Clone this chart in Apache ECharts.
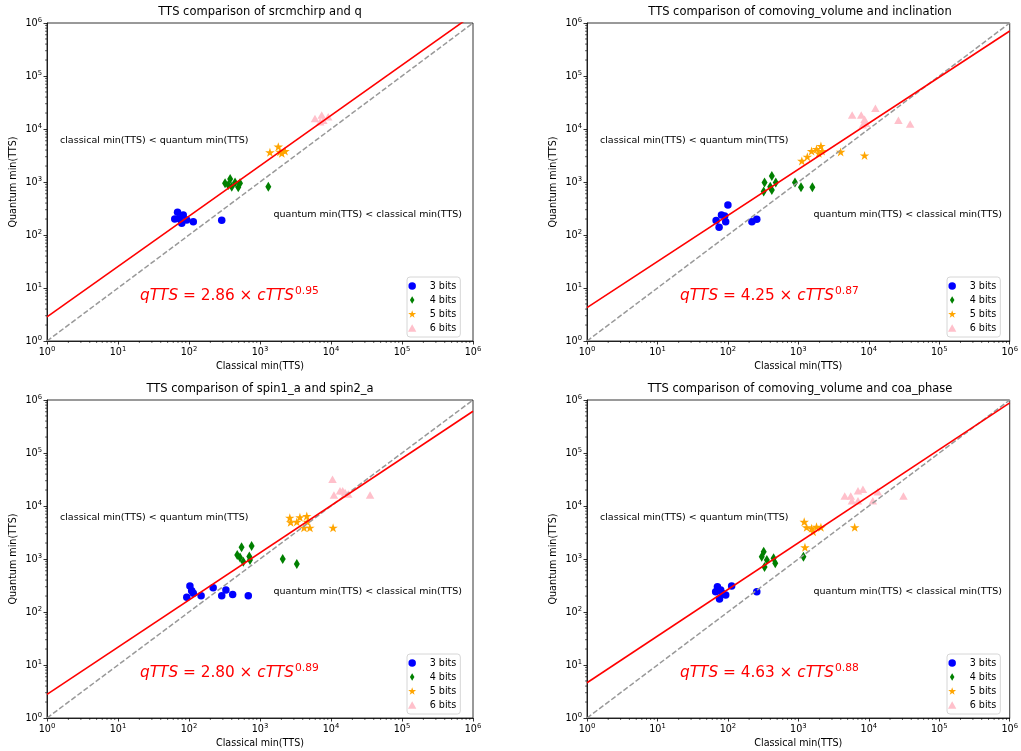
<!DOCTYPE html>
<html><head><meta charset="utf-8">
<script src="https://cdn.jsdelivr.net/npm/echarts@6/dist/echarts.min.js"></script>
<style>html,body{margin:0;padding:0;background:#fff}#c{width:1021px;height:751px}</style>
</head><body><div id="c"></div>
<script>
// ---------- data ----------
const titles = [
  'TTS comparison of srcmchirp and q',
  'TTS comparison of comoving_volume and inclination',
  'TTS comparison of spin1_a and spin2_a',
  'TTS comparison of comoving_volume and coa_phase'
];
const legendNames = ['3 bits', '4 bits', '5 bits', '6 bits'];
const fitCoef = [2.86, 4.25, 2.80, 4.63];
const fitExp = [0.95, 0.87, 0.89, 0.88];
const tickExponents = [0, 1, 2, 3, 4, 5, 6];

// panel 1: srcmchirp and q
const p1_3bits = [[69,269],[83,239],[63,200],[73,203],[93,192],[79,166],[115,178],[289,189]];
const p1_4bits = [[322,944],[380,1140],[445,975],[494,792],[400,813],[357,878],[523,944],[1310,813]];
const p1_5bits = [[1380,3630],[1810,4640],[1910,3720],[2250,3830],[2030,3480]];
const p1_6bits = [[5950,15800],[7400,18300],[7800,14700],[9130,17000],[7030,13700]];
// panel 2: comoving_volume and inclination
const p2_3bits = [[100,369],[81,239],[68,187],[90,228],[93,178],[75,140],[219,178],[257,198]];
const p2_4bits = [[420,1300],[331,975],[478,975],[322,659],[399,813],[420,707],[895,975],[1090,792],[1580,792]];
const p2_5bits = [[1120,2500],[1340,3000],[1540,3830],[1810,4190],[2090,4770],[1950,3480],[2170,3830],[3980,3700],[8700,3170]];
const p2_6bits = [[5800,18300],[7800,18300],[12400,24600],[8700,15200],[9130,12900],[26300,14700],[38600,12400],[8200,12000]];
// panel 3: spin1_a and spin2_a
const p3_3bits = [[103,309],[109,252],[93,189],[115,225],[148,203],[219,288],[289,203],[331,260],[412,215],[684,203]];
const p3_4bits = [[550,1660],[478,1190],[523,1070],[582,890],[762,1760],[707,1110],[723,955],[2090,1000],[3300,804]];
const p3_5bits = [[2630,6000],[2700,4930],[3300,5030],[3650,6130],[4560,6470],[4650,5030],[4170,3880],[5050,3880],[10700,3880]];
const p3_6bits = [[10500,31900],[11000,16100],[13400,19300],[14600,19300],[15800,17900],[17500,16800],[35500,16100]];
// panel 4: comoving_volume and coa_phase
const p4_3bits = [[71,300],[79,260],[67,240],[83,225],[93,209],[76,176],[113,309],[257,240]];
const p4_4bits = [[322,1370],[302,1100],[357,955],[331,710],[445,1030],[470,830],[1180,1100]];
const p4_5bits = [[1210,5030],[1310,3960],[1540,3790],[1810,4040],[2090,3960],[1620,3270],[6300,3960],[1240,1660]];
const p4_6bits = [[4550,15400],[5540,15400],[7020,19300],[8250,20700],[13400,18600],[5750,12600],[7020,12600],[11400,12600],[31000,15400]];

const panels = [
  [p1_3bits, p1_4bits, p1_5bits, p1_6bits],
  [p2_3bits, p2_4bits, p2_5bits, p2_6bits],
  [p3_3bits, p3_4bits, p3_5bits, p3_6bits],
  [p4_3bits, p4_4bits, p4_5bits, p4_6bits]
];

// ---------- layout / style ----------
const FONT = 'DejaVu Sans';
const gridPos = [[47,23],[587,23],[47,400],[587,400]];
const GW = 426, GH = 318;
const axisMin = 1, axisMax = 1e6;

const markerSymbols = [
  'circle',
  'path://M3,0L6,5L3,10L0,5Z',
  'path://M100,0L122.45,69.1L195.1,69.1L136.3,111.8L158.8,180.9L100,138.2L41.2,180.9L63.7,111.8L4.9,69.1L77.55,69.1Z',
  'path://M1,0L2,1.8L0,1.8Z'
];
const markerSizes = [7.5, [6, 10], [9.5, 9], [8.5, 7.5]];
const markerColors = ['#0000ff', '#008000', '#ffa500', '#ffc0cb'];

const minorVals = [];
for (let k = 0; k < 6; k++) for (let m = 2; m <= 9; m++) minorVals.push(m * Math.pow(10, k));

function expLabel(v) {
  const n = Math.round(Math.log10(v));
  return '10{sup|' + n + '}';
}
const supRich = { sup: { fontSize: 6.8, fontFamily: FONT, color: '#000', verticalAlign: 'bottom', padding: [0, 0, 6, 0] } };

const grids = [], xAxes = [], yAxes = [], series = [], legends = [], graphics = [];

gridPos.forEach(([gx, gy], i) => {
  grids.push({ left: gx, top: gy, width: GW, height: GH, show: true, borderColor: '#000', borderWidth: 0.8, backgroundColor: 'transparent' });
  const common = {
    type: 'log', logBase: 10, min: axisMin, max: axisMax, gridIndex: i, splitNumber: 6,
    axisLine: { show: true, lineStyle: { color: '#000', width: 0.8 } },
    axisTick: { show: true, inside: false, length: 3.5, lineStyle: { color: '#000', width: 0.8 } },
    splitLine: { show: false },
    nameTextStyle: { fontFamily: FONT, fontSize: 9.6, color: '#000' },
    nameLocation: 'middle'
  };
  xAxes.push(Object.assign({}, common, {
    name: 'Classical min(TTS)', nameGap: 20,
    axisLabel: { formatter: expLabel, rich: supRich, fontFamily: FONT, fontSize: 9.6, color: '#000', margin: 5, showMinLabel: true, showMaxLabel: true, hideOverlap: false }
  }));
  yAxes.push(Object.assign({}, common, {
    name: 'Quantum min(TTS)', nameGap: 29,
    axisLabel: { formatter: expLabel, rich: supRich, fontFamily: FONT, fontSize: 9.6, color: '#000', margin: 5, showMinLabel: true, showMaxLabel: true, hideOverlap: false }
  }));

  // scatter series
  panels[i].forEach((pts, s) => {
    series.push({
      type: 'scatter', name: legendNames[s], xAxisIndex: i, yAxisIndex: i,
      data: pts, symbol: markerSymbols[s], symbolSize: markerSizes[s],
      itemStyle: { color: markerColors[s], opacity: 1 }, z: 3, silent: true
    });
  });
  // y = x reference
  series.push({
    type: 'line', xAxisIndex: i, yAxisIndex: i, data: [[axisMin, axisMin], [axisMax, axisMax]],
    symbol: 'none', lineStyle: { color: '#999', width: 1.5, type: [5.3, 2.3] }, z: 4, silent: true
  });
  // fit line qTTS = a * cTTS^b
  const a = fitCoef[i], b = fitExp[i];
  series.push({
    type: 'line', xAxisIndex: i, yAxisIndex: i,
    data: [[axisMin, a * Math.pow(axisMin, b)], [axisMax, a * Math.pow(axisMax, b)]],
    symbol: 'none', lineStyle: { color: '#ff0000', width: 1.6 }, z: 5, silent: true, clip: true
  });
  // minor ticks (x and y)
  series.push({
    type: 'custom', xAxisIndex: i, yAxisIndex: i, data: minorVals.map(v => [v, axisMin]), silent: true, clip: false,
    renderItem: (params, api) => {
      const p = api.coord([api.value(0), api.value(1)]);
      return { type: 'line', shape: { x1: p[0], y1: p[1], x2: p[0], y2: p[1] + 2 }, style: { stroke: '#000', lineWidth: 0.6 } };
    }
  });
  series.push({
    type: 'custom', xAxisIndex: i, yAxisIndex: i, data: minorVals.map(v => [axisMin, v]), silent: true, clip: false,
    renderItem: (params, api) => {
      const p = api.coord([api.value(0), api.value(1)]);
      return { type: 'line', shape: { x1: p[0], y1: p[1], x2: p[0] - 2, y2: p[1] }, style: { stroke: '#000', lineWidth: 0.6 } };
    }
  });

  legends.push({
    orient: 'vertical', left: gx + 360, top: gy + 254,
    data: legendNames, itemWidth: 25, itemHeight: 7.5, itemGap: 2,
    padding: [3, 4, 3, 1], borderColor: '#cccccc', borderWidth: 0.8, borderRadius: 3,
    backgroundColor: 'rgba(255,255,255,0.8)', selectedMode: false,
    textStyle: { fontFamily: FONT, fontSize: 9.6, color: '#000', lineHeight: 12 }
  });

  // title
  graphics.push({ type: 'text', x: gx + GW / 2, y: gy - 11, style: { text: titles[i], fill: '#000', font: '11.5px "' + FONT + '"', align: 'center', verticalAlign: 'middle' } });
  // region annotations
  graphics.push({ type: 'text', x: gx + 13, y: gy + 118, style: { text: 'classical min(TTS) < quantum min(TTS)', fill: '#000', font: '9.5px "' + FONT + '"', align: 'left', verticalAlign: 'middle' } });
  graphics.push({ type: 'text', x: gx + 415, y: gy + 192, style: { text: 'quantum min(TTS) < classical min(TTS)', fill: '#000', font: '9.5px "' + FONT + '"', align: 'right', verticalAlign: 'middle' } });
  // fit equation
  graphics.push({ type: 'text', x: gx + 93, y: gy + 273, style: {
    text: '{i|qTTS}{n| = ' + a.toFixed(2) + ' × }{i|cTTS}{s|' + b.toFixed(2) + '}',
    fill: '#ff0000', align: 'left', verticalAlign: 'middle',
    rich: {
      i: { fontFamily: FONT, fontStyle: 'italic', fontSize: 15.3, fill: '#ff0000', color: '#ff0000' },
      n: { fontFamily: FONT, fontSize: 15.3, fill: '#ff0000', color: '#ff0000' },
      s: { fontFamily: FONT, fontSize: 10.7, fill: '#ff0000', color: '#ff0000', verticalAlign: 'bottom', padding: [0, 0, 9, 1] }
    }
  } });
});

const chart = echarts.init(document.getElementById('c'), null, { renderer: 'canvas' });
chart.setOption({
  animation: false,
  backgroundColor: '#ffffff',
  grid: grids, xAxis: xAxes, yAxis: yAxes, series: series, legend: legends, graphic: graphics
});
</script>
</body></html>
